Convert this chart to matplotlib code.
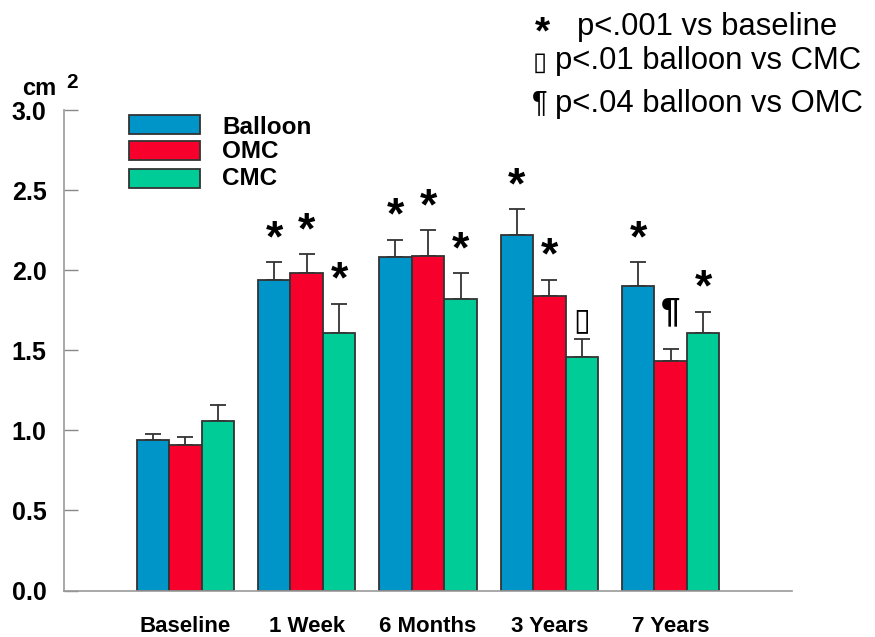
import matplotlib
matplotlib.use("Agg")
import matplotlib.pyplot as plt
from matplotlib.patches import Rectangle
import numpy as np

# ---- data ----
groups = ["Baseline", "1 Week", "6 Months", "3 Years", "7 Years"]
series = ["Balloon", "OMC", "CMC"]
balloon = [0.94, 1.94, 2.08, 2.22, 1.90]
balloon_err = [0.04, 0.11, 0.11, 0.16, 0.15]
omc = [0.91, 1.98, 2.09, 1.84, 1.43]
omc_err = [0.05, 0.12, 0.16, 0.10, 0.08]
cmc = [1.06, 1.61, 1.82, 1.46, 1.61]
cmc_err = [0.10, 0.18, 0.16, 0.11, 0.13]
balloon_marks = ["", "*", "*", "*", "*"]
omc_marks = ["", "*", "*", "*", "\u00b6"]
cmc_marks = ["", "*", "*", "\u25af", "*"]
yticks = [0.0, 0.5, 1.0, 1.5, 2.0, 2.5, 3.0]

colors = ["#0095c9", "#f8002c", "#00cc98"]
edge = "#333333"

W, H = 875, 637
fig = plt.figure(figsize=(W / 100, H / 100), dpi=100)
ax = fig.add_axes([64 / W, (H - 590.5) / H, (792 - 64) / W, (590.5 - 110) / H])

x = np.arange(len(groups))
bw = 0.268
vals = [balloon, omc, cmc]
errs = [balloon_err, omc_err, cmc_err]
marks = [balloon_marks, omc_marks, cmc_marks]

# symbol styling: size, font, weight and vertical offset (pixels) above the error cap
sym_style = {
    "*": dict(size=32, family=["Liberation Sans"], weight="bold", off=11),
    "\u00b6": dict(size=25, family=["Liberation Sans"], weight="bold", off=27),
    "\u25af": dict(size=22, family=["DejaVu Sans"], weight="bold", off=10),
}

for i in range(3):
    xs = x + (i - 1) * bw
    ax.bar(xs, vals[i], bw, color=colors[i], edgecolor=edge, linewidth=1.3,
           zorder=2)
    ax.errorbar(xs, vals[i], yerr=[np.zeros(len(x)), errs[i]], fmt="none",
                ecolor=edge, elinewidth=1.3, capsize=6, capthick=1.3, zorder=1)
    for xi, v, e, m in zip(xs, vals[i], errs[i], marks[i]):
        if not m:
            continue
        st = sym_style[m]
        ax.annotate(m, (xi, v + e), xytext=(0, st["off"]),
                    textcoords="offset pixels", ha="center", va="baseline",
                    fontsize=st["size"], fontweight=st["weight"],
                    family=st["family"], color="black")

ax.set_xlim(-1, 5)
ax.set_ylim(0, 3.0)
ax.set_yticks(yticks)
ax.set_yticklabels([f"{t:.1f}" for t in yticks], fontsize=18,
                   fontweight="bold", family=["Liberation Sans"])
ax.tick_params(axis="y", direction="in", length=10, width=1, color="#888888",
               pad=12.5)
ax.set_xticks(x)
ax.set_xticklabels(groups, fontsize=16, fontweight="bold",
                   family=["Liberation Sans"])
ax.tick_params(axis="x", length=0, pad=18)
for s in ["top", "right"]:
    ax.spines[s].set_visible(False)
for s in ["left", "bottom"]:
    ax.spines[s].set_color("#999999")
    ax.spines[s].set_linewidth(1.2)

# unit label
fig.text(22 / W, 1 - 95 / H, "cm", fontsize=17, fontweight="bold",
         family=["Liberation Sans"], va="baseline", ha="left")
fig.text(66 / W, 1 - 88 / H, "2", fontsize=15, fontweight="bold",
         family=["Liberation Sans"], va="baseline", ha="left")

# series key
key_rows = [(115, 134), (141, 160), (169, 188)]
key_base = [134, 158, 185]
for (t, b), yb, c, name in zip(key_rows, key_base, colors, series):
    fig.add_artist(Rectangle((129 / W, 1 - b / H), 71 / W, (b - t) / H,
                             transform=fig.transFigure, facecolor=c,
                             edgecolor=edge, linewidth=1.3))
    fig.text(222 / W, 1 - yb / H, name, fontsize=17.5, fontweight="bold",
             family=["Liberation Sans"], va="baseline", ha="left")

# significance notes
fig.text(542 / W, 1 - 43.5 / H, "*", fontsize=28, fontweight="bold",
         family=["Liberation Sans"], va="baseline", ha="center")
fig.text(577 / W, 1 - 35 / H, "p<.001 vs baseline", fontsize=22.3,
         family=["Liberation Sans"], va="baseline", ha="left")
fig.text(540 / W, 1 - 70 / H, "\u25af", fontsize=18.5,
         family=["DejaVu Sans"], va="baseline", ha="center")
fig.text(555 / W, 1 - 69 / H, "p<.01 balloon vs CMC", fontsize=22.3,
         family=["Liberation Sans"], va="baseline", ha="left")
fig.text(540 / W, 1 - 110.5 / H, "\u00b6", fontsize=21,
         family=["Liberation Sans"], va="baseline", ha="center")
fig.text(555 / W, 1 - 112 / H, "p<.04 balloon vs OMC", fontsize=22.3,
         family=["Liberation Sans"], va="baseline", ha="left")

fig.savefig("out.png", dpi=100, facecolor="white")
